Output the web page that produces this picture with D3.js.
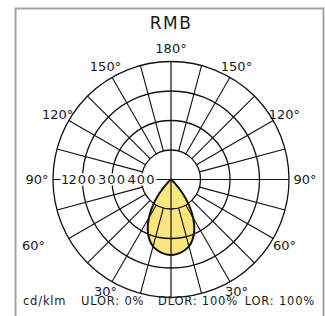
<!DOCTYPE html>
<html>
<head>
<meta charset="utf-8">
<script src="https://cdn.jsdelivr.net/npm/d3@7"></script>
<style>
body{margin:0;background:#fff}
text{font-family:"DejaVu Sans",sans-serif;fill:#1a1a1a}
</style>
</head>
<body>
<svg id="svg1" width="325" height="316"></svg>
<script>
var title = "RMB"
var ringValues = [100, 200, 300, 400]
var angleLabels = [30, 60, 90, 120, 150, 180]
var curveAngles = [0,5,10,15,20,25,30,35,40,45,50,55,60,65,70,75,80,85,90,95,100,105,110,115,120,125,130,135,140,145,150,155,160,165,170,175,180]
var intensity = [256,253,246,235,215,187,150,107,62,22,3,0,0,0,0,0,0,0,0,0,0,0,0,0,0,0,0,0,0,0,0,0,0,0,0,0,0]
var unitLabel = "cd/klm"
var footer = ["ULOR: 0%", "DLOR: 100%", "LOR: 100%"]

var svg = d3.select("#svg1")
var cx = 171, cy = 179.5, R = 118
var maxv = 400
var r = d3.scaleLinear().domain([0, maxv]).range([0, R])

svg.append("rect").attr("width",325).attr("height",316).attr("fill","#fff")
svg.append("rect")
    .attr("x",15.5).attr("y",8.5).attr("width",308).attr("height",330)
    .attr("fill","none").attr("stroke","#a3a3a3").attr("stroke-width",2)

svg.append("text").attr("x",cx).attr("y",29).attr("text-anchor","middle")
    .style("font-size","17px").style("letter-spacing","1.5px").text(title)

var g = svg.append("g").attr("transform","translate("+cx+","+cy+")")

// light distribution, both halves (0 deg = straight down)
var pts = []
curveAngles.forEach(function(a,i){ pts.push([Math.PI + a*Math.PI/180, r(intensity[i])]) })
for(var i=curveAngles.length-2;i>0;i--){
    pts.push([Math.PI - curveAngles[i]*Math.PI/180, r(intensity[i])])
}
var radial = d3.lineRadial().curve(d3.curveCatmullRomClosed)

g.append("path").attr("d",radial(pts)).attr("fill","#fce77e").attr("stroke","none")

// grid
g.selectAll("circle.ring").data(ringValues).enter().append("circle")
    .attr("r",function(d){return r(d)})
    .attr("fill","none").attr("stroke","#111").attr("stroke-width",1.3)

var spokes = d3.range(0,360,15).filter(function(d){return d%90!=0})
g.selectAll("line.spoke").data(spokes).enter().append("line")
    .attr("x1",function(d){return r(100)*Math.sin(d*Math.PI/180)})
    .attr("y1",function(d){return r(100)*Math.cos(d*Math.PI/180)})
    .attr("x2",function(d){return R*Math.sin(d*Math.PI/180)})
    .attr("y2",function(d){return R*Math.cos(d*Math.PI/180)})
    .attr("stroke","#111").attr("stroke-width",1.1)
g.append("line").attr("x1",-R).attr("x2",R).attr("stroke","#111").attr("stroke-width",1.2)
g.append("line").attr("y1",-R).attr("y2",R).attr("stroke","#111").attr("stroke-width",1.2)

g.append("path").attr("d",radial(pts)).attr("fill","none")
    .attr("stroke","#111").attr("stroke-width",2)

// radial value labels on the left axis
ringValues.forEach(function(v){
    var t = g.append("text").attr("y",0).attr("dy","0.36em")
        .attr("text-anchor","middle").style("font-size","13px").style("letter-spacing","1px").text(v)
    var w = t.node().getComputedTextLength()
    var x = -r(maxv + ringValues[0] - v)
    if(x - w/2 < -R + 8) x = -R + 8 + w/2
    t.attr("x",x)
    g.insert("rect", function(){return t.node()})
        .attr("x",x-w/2-0.5).attr("y",-6).attr("width",w+1.5).attr("height",12).attr("fill","#fff")
})

// angle labels
var d = 131
angleLabels.forEach(function(a){
    var sides = a==180 ? [1] : [-1,1]
    sides.forEach(function(s){
        var rad = a*Math.PI/180
        var x = s*d*Math.sin(rad), y = d*Math.cos(rad)
        if(a==60 && s<0) x -= 24
        if(a==90) x += s*3
        if(a==30) y -= 2
        g.append("text").attr("x",x).attr("y",y).attr("dy","0.36em")
            .attr("text-anchor","middle").style("font-size","13px").text(a+"°")
    })
})

var fs = "11.5px", ls = "0.8px"
svg.append("text").attr("x",23).attr("y",305).style("font-size",fs).style("letter-spacing",ls).text(unitLabel)
svg.append("text").attr("x",81).attr("y",305).style("font-size",fs).style("letter-spacing",ls).text(footer[0])
svg.append("text").attr("x",158).attr("y",305).style("font-size",fs).style("letter-spacing",ls).text(footer[1])
svg.append("text").attr("x",315).attr("y",305).attr("text-anchor","end").style("font-size",fs).style("letter-spacing",ls).text(footer[2])
</script>
</body>
</html>
